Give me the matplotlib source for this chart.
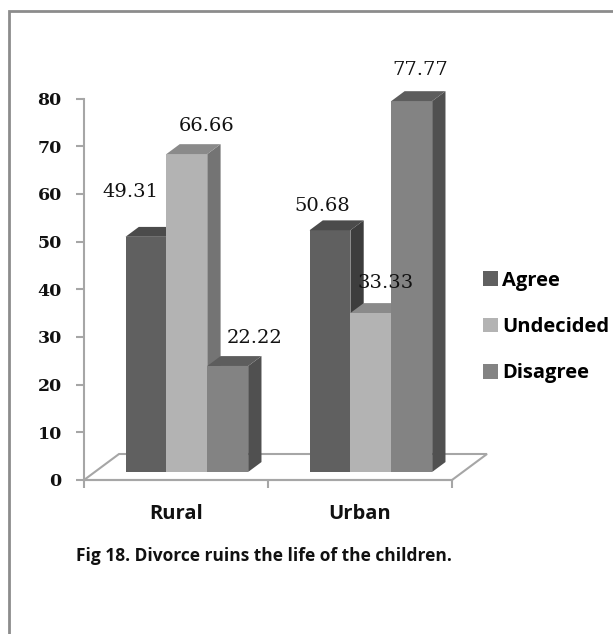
import matplotlib
matplotlib.use("Agg")
import matplotlib.pyplot as plt
from matplotlib.patches import Polygon, Patch, Rectangle

categories = ["Rural", "Urban"]
series = ["Agree", "Undecided", "Disagree"]
agree = [49.31, 50.68]
undecided = [66.66, 33.33]
disagree = [22.22, 77.77]
values = [agree, undecided, disagree]
y_ticks = [0, 10, 20, 30, 40, 50, 60, 70, 80]
caption = "Fig 18. Divorce ruins the life of the children."

# face colours per series: front, top, side
front_col = ["#606060", "#b3b3b3", "#838383"]
top_col = ["#4b4b4b", "#8a8a8a", "#5d5d5d"]
side_col = ["#3d3d3d", "#747474", "#505050"]

# label offsets (pixels) relative to each bar's front-top centre
label_off = [[(-16, 45), (-8, 24)],
             [(20, 28), (15, 30)],
             [(27, 28), (9, 31)]]

W, H = 613, 634
fig = plt.figure(figsize=(W / 100, H / 100), dpi=100)
fig.patch.set_facecolor("white")

# outer frame
fig.patches.append(Rectangle((9 / W, -0.2), 1.2, 1.2 - 11 / H,
                             transform=fig.transFigure, fill=False,
                             edgecolor="#8c8c8c", linewidth=2))

ax_left, ax_right = 84, 452
ax_bottom, ax_top = 480, 98.5
ax = fig.add_axes([ax_left / W, 1 - ax_bottom / H,
                   (ax_right - ax_left) / W, (ax_bottom - ax_top) / H])
ax.set_xlim(0, 2)
ax.set_ylim(0, 80)
ax.set_facecolor("none")

px_x = (ax_right - ax_left) / 2.0      # pixels per x unit
px_y = (ax_bottom - ax_top) / 80.0     # pixels per value unit

# floor depth and bar placement inside it
floor_dx, floor_dy = 35 / px_x, 26 / px_y
f0, f1 = 0.31, 0.69
bdx0, bdy0 = floor_dx * f0, floor_dy * f0
bdx, bdy = floor_dx * (f1 - f0), floor_dy * (f1 - f0)

floor = Polygon([(0, 0), (2, 0), (2 + floor_dx, floor_dy), (floor_dx, floor_dy)],
                closed=True, facecolor="white", edgecolor="#a6a6a6",
                linewidth=1.5, clip_on=False, zorder=1)
ax.add_patch(floor)

bw = 1 / 4.5
for ci in range(len(categories)):
    center = ci + 0.5
    for si in range(len(series)):
        v = values[si][ci]
        x0 = center + (si - 1.5) * bw + bdx0
        x1 = x0 + bw
        y0 = bdy0
        y1 = bdy0 + v
        front = Polygon([(x0, y0), (x1, y0), (x1, y1), (x0, y1)],
                        facecolor=front_col[si], edgecolor="none",
                        clip_on=False, zorder=3)
        top = Polygon([(x0, y1), (x1, y1), (x1 + bdx, y1 + bdy), (x0 + bdx, y1 + bdy)],
                      facecolor=top_col[si], edgecolor="none",
                      clip_on=False, zorder=3)
        side = Polygon([(x1, y0), (x1 + bdx, y0 + bdy), (x1 + bdx, y1 + bdy), (x1, y1)],
                       facecolor=side_col[si], edgecolor="none",
                       clip_on=False, zorder=3)
        for p in (front, side, top):
            ax.add_patch(p)
        ox, oy = label_off[si][ci]
        ax.annotate(f"{v:.2f}", xy=((x0 + x1) / 2, y1), xytext=(ox, oy),
                    textcoords="offset pixels", ha="center", va="center",
                    fontsize=14, family="DejaVu Serif", color="#111111",
                    zorder=5, annotation_clip=False)

for s in ("top", "right"):
    ax.spines[s].set_visible(False)
for s in ("left", "bottom"):
    ax.spines[s].set_color("#a6a6a6")
    ax.spines[s].set_linewidth(1.5)
    ax.spines[s].set_zorder(2)

ax.set_yticks(y_ticks)
ax.set_yticklabels([str(t) for t in y_ticks], family="DejaVu Serif",
                   fontweight="bold", fontsize=12.5, color="#111111")
ax.tick_params(axis="y", length=6, width=1.5, color="#a6a6a6", pad=10)

ax.set_xticks([0, 1, 2])
ax.set_xticklabels([])
ax.tick_params(axis="x", which="major", length=6, width=1.5, color="#a6a6a6")
ax.set_xticks([0.5, 1.5], minor=True)
ax.set_xticklabels(categories, minor=True, family="Open Sans", fontweight="bold",
                   fontsize=14.5, color="#111111")
ax.tick_params(axis="x", which="minor", length=0, pad=17)

handles = [Patch(facecolor=front_col[i], edgecolor="none") for i in range(3)]
fig.legend(handles, series, loc="center left",
           bbox_to_anchor=(473 / W, 1 - 327 / H), frameon=False,
           prop={"family": "Open Sans", "weight": "bold", "size": 14.5},
           handlelength=0.75, handleheight=0.75, handletextpad=0.2,
           labelspacing=1.3, borderpad=0)

fig.text(263.5 / W, 1 - 556 / H, caption, ha="center", va="center",
         family="Open Sans", fontweight="bold", fontsize=12.5, color="#111111")

fig.savefig("out.png", dpi=100, facecolor="white")
